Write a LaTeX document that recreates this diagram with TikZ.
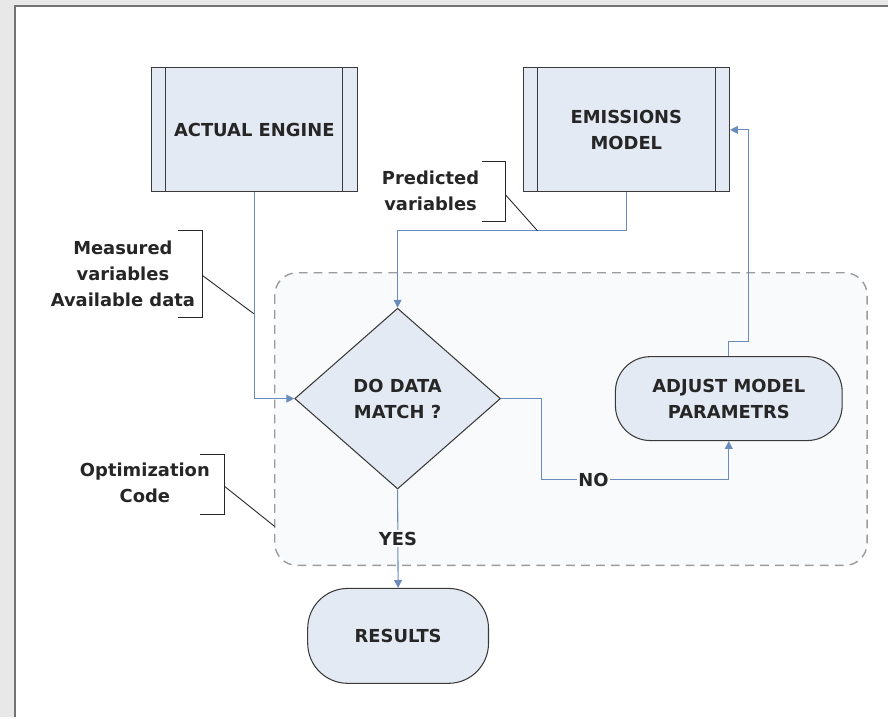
\documentclass[tikz,border=0pt]{standalone}
\usepackage{fontspec}
\setmainfont{DejaVu Sans}
\usetikzlibrary{shapes.geometric,arrows.meta}

\definecolor{boxfill}{HTML}{E4EAF4}
\definecolor{boxline}{HTML}{3A3A3A}
\definecolor{flowblue}{HTML}{6A8CBC}
\definecolor{zonefill}{HTML}{F9FAFC}
\definecolor{zoneline}{HTML}{9C9C9C}

\tikzset{
  base/.style={draw=boxline, fill=boxfill, line width=0.6pt, align=center,
    font=\fontsize{10.2}{14.8}\selectfont\bfseries, text=black!85, inner sep=0pt},
  process/.style={base, rectangle, minimum width=4.13cm, minimum height=2.48cm},
  decision/.style={base, diamond, aspect=1.14, minimum width=4.12cm, minimum height=3.62cm},
  terminal/.style={base, rectangle, rounded corners=#1},
  flow/.style={draw=flowblue, line width=0.6pt, -{Triangle[width=4.5pt,length=4.5pt]}},
  callout/.style={draw=black!85, line width=0.5pt},
  note/.style={align=center, font=\fontsize{10.2}{14.8}\selectfont\bfseries, text=black!85},
  zone/.style={draw=zoneline, fill=zonefill, line width=0.8pt,
    dash pattern=on 5pt off 3.5pt, rounded corners=0.45cm},
  lbl/.style={fill=zonefill, inner sep=1pt, font=\fontsize{10.2}{14.8}\selectfont\bfseries, text=black!85}
}

\begin{document}
\begin{tikzpicture}[x=0.02cm, y=-0.02cm]
  \def \side {0.3cm}

  % page
  \fill[black!9] (0,0) rectangle (889,718);
  \fill[white] (15,6) rectangle (889,718);
  \draw[black!55, line width=1pt] (15,718) -- (15,6) -- (889,6);
  \useasboundingbox (0,0) rectangle (889,718);

  \draw[zone] (275,273) rectangle (868,566);

  \node[process] (engine) at (254.5,130) {ACTUAL ENGINE};
  \node[process] (model) at (627,130) {EMISSIONS\\MODEL};
  \foreach \b in {engine,model}{
    \draw[boxline, line width=0.6pt] ([xshift=\side]\b.north west) -- ([xshift=\side]\b.south west);
    \draw[boxline, line width=0.6pt] ([xshift=-\side]\b.north east) -- ([xshift=-\side]\b.south east);
  }
  \node[decision] (match) at (398,399) {DO DATA\\MATCH ?};
  \node[terminal=0.7cm, minimum width=4.54cm, minimum height=1.68cm] (adjust) at (729.5,399) {ADJUST MODEL\\PARAMETRS};
  \node[terminal=0.8cm, minimum width=3.62cm, minimum height=1.9cm] (results) at (398.5,636.5) {RESULTS};

  \coordinate (pj) at (398,231);
  \coordinate (nj) at (542,480);
  \coordinate (aj) at (749,342);

  \draw[flow] (engine.south) |- (match.west);
  \draw[flow] (model.south) |- (pj) -- (match.north);
  \draw[flow] (match.east) -| (nj) -| (adjust.south);
  \node[lbl] (no) at (594,480) {NO};
  \draw[flow] (match.south) -- node[lbl] (yes) {YES} (results.north);
  \draw[flow] (adjust.north) |- (aj) |- (model.east);

  % notes
  \node[note] (predicted) at (431,191) {Predicted\\variables};
  \draw[callout] (482,162) -| (506,222) -- (482,222);
  \draw[callout] (506,195) -- (538,231);

  \node[note] (measured) at (123,274) {Measured\\variables\\Available data};
  \draw[callout] (178,231) -| (203,318) -- (178,318);
  \draw[callout] (203,276) -- (254,314);

  \node[note] (optim) at (145,483) {Optimization\\Code};
  \draw[callout] (200,455) -| (225,515) -- (200,515);
  \draw[callout] (225,487) -- (275,527);
\end{tikzpicture}
\end{document}
